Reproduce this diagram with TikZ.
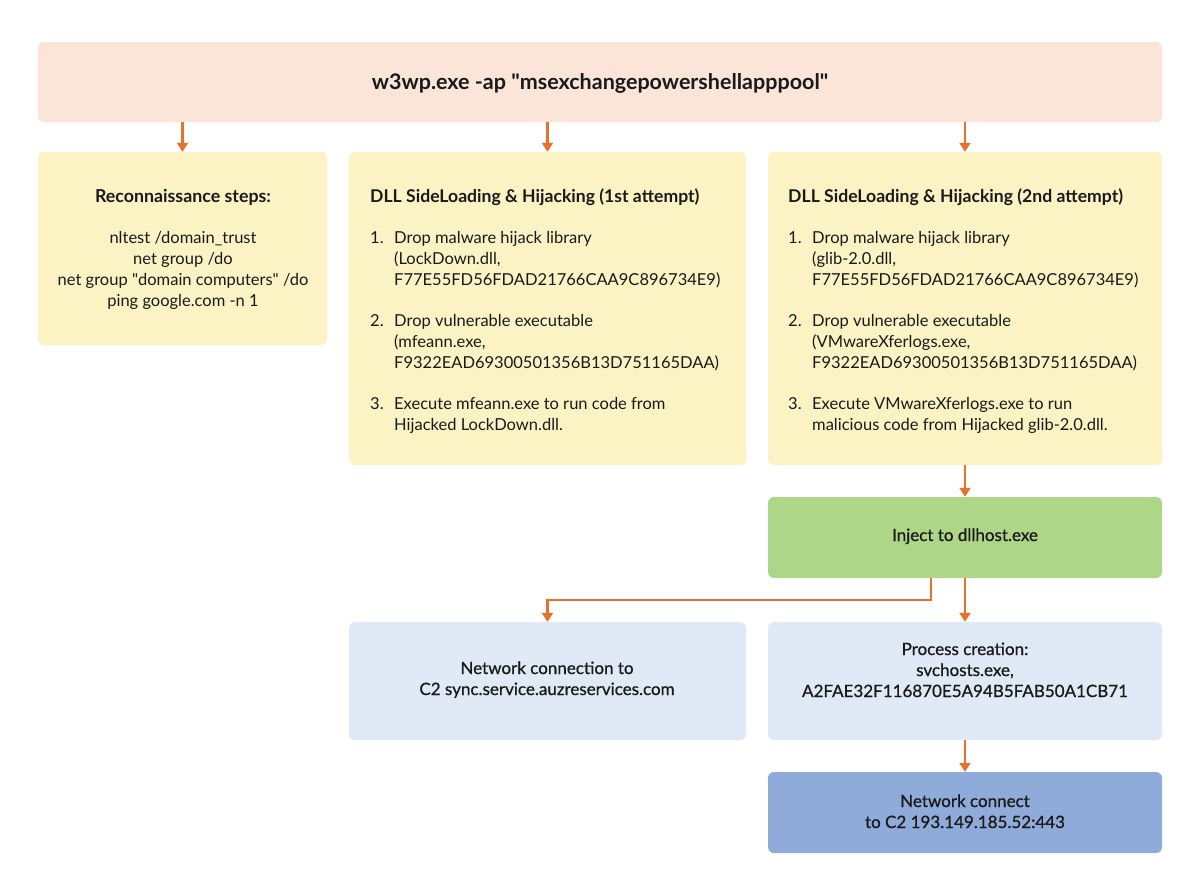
\documentclass[tikz,border=0pt]{standalone}
\usepackage{fontspec}
\setmainfont{Lato}
\setmonofont{Lato}
\newfontfamily\medfont[FakeBold=0.8]{Lato}
\usetikzlibrary{arrows.meta}
\definecolor{peach}{HTML}{FAE5D8}
\definecolor{ylw}{HTML}{FCF3C4}
\definecolor{grn}{HTML}{AED689}
\definecolor{lblue}{HTML}{DFEAF6}
\definecolor{dblue}{HTML}{8FABDA}
\definecolor{arr}{HTML}{E8712C}
\definecolor{ink}{HTML}{1A1A1A}
\newcommand{\dq}{{\ttfamily\char34}}
\tikzset{
  box/.style={rounded corners=6pt, inner sep=0pt, draw=none},
  flow/.style={draw=arr, line width=2.2pt, -{Triangle[width=11pt,length=9pt]}},
  body/.style={anchor=base west, inner sep=0pt, text=ink, font=\fontsize{16.5}{19}\selectfont},
  cbody/.style={anchor=base, inner sep=0pt, text=ink, font=\fontsize{16.5}{19}\selectfont},
  ttl/.style={anchor=base west, inner sep=0pt, text=ink, font=\fontsize{17.6}{20}\selectfont\bfseries},
  mid/.style={anchor=base, inner sep=0pt, text=ink, font=\fontsize{17}{20}\selectfont\medfont},
}
\begin{document}
\begin{tikzpicture}[x=1pt,y=-1pt]
\useasboundingbox[fill=white] (0,0) rectangle (1200,895);
% boxes
\node[box, fill=peach, minimum width=1124pt, minimum height=80pt] (top) at (600,82) {};
\node[box, fill=ylw, minimum width=289pt, minimum height=193pt] (recon) at (182.5,248.5) {};
\node[box, fill=ylw, minimum width=397pt, minimum height=313pt] (dlla) at (547.5,308.5) {};
\node[box, fill=ylw, minimum width=394pt, minimum height=313pt] (dllb) at (965,308.5) {};
\node[box, fill=grn, minimum width=394pt, minimum height=81pt] (inj) at (965,537.5) {};
\node[box, fill=lblue, minimum width=397pt, minimum height=118pt] (net) at (547.5,681) {};
\node[box, fill=lblue, minimum width=394pt, minimum height=118pt] (proc) at (965,681) {};
\node[box, fill=dblue, minimum width=394pt, minimum height=81pt] (nc) at (965,812.5) {};
% top text
\node[anchor=base, inner sep=0pt, text=ink, font=\fontsize{21.5}{24}\selectfont\bfseries] (ttop) at (600,89) {w3wp.exe -ap \dq msexchangepowershellapppool\dq};
% recon text
\node[cbody, font=\fontsize{17.8}{20}\selectfont\bfseries] (rt) at (183,202) {Reconnaissance steps:};
\node[cbody] (r1) at (183,243) {nltest /domain\_trust};
\node[cbody] (r2) at (183,264) {net group /do};
\node[cbody] (r3) at (183,285) {net group \dq domain computers\dq\ /do};
\node[cbody] (r4) at (183,306) {ping google.com -n 1};
% dll a
\node[ttl] (at) at (370,202) {DLL SideLoading \& Hijacking (1st attempt)};
\node[body] (a1n) at (370,243) {1.};
\node[body] (a1a) at (394,243) {Drop malware hijack library};
\node[body] (a1b) at (394,264) {(LockDown.dll,};
\node[body] (a1c) at (394,285) {F77E55FD56FDAD21766CAA9C896734E9)};
\node[body] (a2n) at (370,326) {2.};
\node[body] (a2a) at (394,326) {Drop vulnerable executable};
\node[body] (a2b) at (394,347) {(mfeann.exe,};
\node[body] (a2c) at (394,368) {F9322EAD69300501356B13D751165DAA)};
\node[body] (a3n) at (370,409) {3.};
\node[body] (a3a) at (394,409) {Execute mfeann.exe to run code from};
\node[body] (a3b) at (394,430) {Hijacked LockDown.dll.};
% dll b
\node[ttl] (bt) at (788,202) {DLL SideLoading \& Hijacking (2nd attempt)};
\node[body] (b1n) at (788,243) {1.};
\node[body] (b1a) at (812,243) {Drop malware hijack library};
\node[body] (b1b) at (812,264) {(glib-2.0.dll,};
\node[body] (b1c) at (812,285) {F77E55FD56FDAD21766CAA9C896734E9)};
\node[body] (b2n) at (788,326) {2.};
\node[body] (b2a) at (812,326) {Drop vulnerable executable};
\node[body] (b2b) at (812,347) {(VMwareXferlogs.exe,};
\node[body] (b2c) at (812,368) {F9322EAD69300501356B13D751165DAA)};
\node[body] (b3n) at (788,409) {3.};
\node[body] (b3a) at (812,409) {Execute VMwareXferlogs.exe to run};
\node[body] (b3b) at (812,430) {malicious code from Hijacked glib-2.0.dll.};
% lower texts
\node[mid] (it) at (965,541) {Inject to dllhost.exe};
\node[mid] (n1) at (547,674) {Network connection to};
\node[mid] (n2) at (547,695) {C2 sync.service.auzreservices.com};
\node[mid] (p1) at (965,655) {Process creation:};
\node[mid] (p2) at (965,676) {svchosts.exe,};
\node[mid] (p3) at (965,697) {A2FAE32F116870E5A94B5FAB50A1CB71};
\node[mid] (c1) at (965,807) {Network connect};
\node[mid] (c2) at (965,828) {to C2 193.149.185.52:443};
% arrows
\draw[flow] (top.south -| recon.north) -- (recon.north);
\draw[flow] (top.south -| dlla.north) -- (dlla.north);
\draw[flow] (top.south -| dllb.north) -- (dllb.north);
\draw[flow] (dllb.south) -- (inj.north);
\draw[flow] (inj.south) -- (proc.north);
\coordinate (bend) at (931,600);
\draw[flow] (inj.south -| bend) -- (bend) -| (net.north);
\draw[flow] (proc.south) -- (nc.north);
\end{tikzpicture}
\end{document}
